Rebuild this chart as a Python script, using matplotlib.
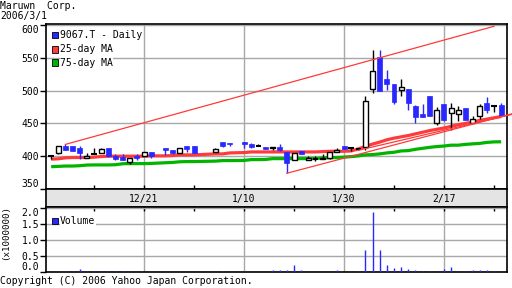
import numpy as np
import matplotlib.pyplot as plt
from matplotlib.patches import Rectangle
import matplotlib.transforms as mtransforms

plt.rcParams['font.family'] = 'DejaVu Sans Mono'
plt.rcParams['font.size'] = 7

# daily prices of 9067.T
dates = ['2005-12-02', '2005-12-05', '2005-12-06', '2005-12-07', '2005-12-08', '2005-12-09',
         '2005-12-12', '2005-12-13', '2005-12-14', '2005-12-15', '2005-12-16', '2005-12-19',
         '2005-12-20', '2005-12-21', '2005-12-22', '2005-12-26', '2005-12-27', '2005-12-28',
         '2005-12-29', '2005-12-30', '2006-01-04', '2006-01-05', '2006-01-06', '2006-01-10',
         '2006-01-11', '2006-01-12', '2006-01-13', '2006-01-16', '2006-01-17', '2006-01-18',
         '2006-01-19', '2006-01-20', '2006-01-23', '2006-01-24', '2006-01-25', '2006-01-26',
         '2006-01-27', '2006-01-30', '2006-01-31', '2006-02-01', '2006-02-02', '2006-02-03',
         '2006-02-06', '2006-02-07', '2006-02-08', '2006-02-09', '2006-02-10', '2006-02-13',
         '2006-02-14', '2006-02-15', '2006-02-16', '2006-02-17', '2006-02-20', '2006-02-21',
         '2006-02-22', '2006-02-23', '2006-02-24', '2006-02-27', '2006-02-28', '2006-03-01']
opens = [401, 405, 416, 415, 413, 397, 403, 405, 412, 401, 399, 391, 400, 400, 406,
         412, 410, 405, 415, 415, 406, 422, 420, 422, 418, 415, 414, 413, 414, 407,
         394, 408, 394, 396, 395, 398, 407, 416, 412, 411, 414, 503, 551, 518, 510,
         501, 503, 477, 465, 492, 451, 480, 466, 464, 473, 450, 461, 481, 477, 478]
highs = [402, 416, 418, 415, 416, 405, 412, 413, 412, 404, 404, 397, 403, 406, 406,
         412, 410, 412, 415, 415, 413, 422, 420, 422, 420, 419, 414, 414, 418, 407,
         405, 408, 401, 400, 403, 407, 413, 416, 414, 412, 492, 562, 562, 532, 510,
         518, 503, 478, 480, 492, 475, 480, 481, 477, 473, 461, 480, 490, 478, 481]
lows = [396, 404, 410, 408, 395, 397, 403, 405, 399, 394, 394, 388, 394, 400, 398,
        402, 404, 405, 407, 405, 406, 414, 415, 412, 412, 415, 411, 410, 408, 374,
        394, 404, 394, 393, 395, 396, 407, 411, 408, 409, 409, 496, 500, 501, 480,
        491, 471, 451, 460, 461, 447, 453, 440, 454, 455, 450, 457, 466, 467, 461]
closes = [401, 416, 410, 408, 405, 400, 403, 411, 401, 395, 394, 397, 397, 406, 400,
          409, 405, 412, 411, 405, 411, 416, 418, 419, 414, 415, 411, 414, 410, 389,
          405, 404, 398, 396, 398, 407, 410, 411, 412, 411, 484, 530, 500, 510, 483,
          506, 481, 460, 460, 461, 470, 455, 473, 470, 455, 456, 476, 471, 477, 461]
ma25 = [395.5, 396, 397.5, 398, 398, 398, 398.5, 399.5, 400, 400, 400, 400, 400, 400, 400.5,
        400.5, 401, 402, 402, 402, 403.5, 403.5, 405, 405.5, 406.5, 406.5, 406.5, 406.5, 406.5, 406.5,
        406.5, 406.5, 406.5, 406.5, 407, 407.5, 407.5, 407.5, 408, 411, 415, 418.5, 421.5, 425, 427.5,
        429.5, 431.5, 434, 436.5, 439, 441, 443, 445.5, 448, 450, 452, 454.5, 456.5, 458.5, 460.5]
ma75 = [384, 384.5, 385, 385, 385.5, 386.5, 386.7, 386.7, 386.7, 387, 388.5, 388.7, 388.7, 388.7, 389,
        390, 390.5, 391.5, 391.8, 391.8, 392.5, 393.3, 393.3, 393.5, 394.8, 394.8, 395, 396.3, 396.3, 396.3,
        396.3, 396.3, 396.3, 396.5, 397.4, 397.6, 398, 398.5, 399.4, 400.5, 402, 402.5, 403.5, 405, 406,
        408, 408.5, 410.5, 412, 413.5, 414.7, 415.5, 416.8, 416.8, 418, 418.8, 419.5, 421, 421.8, 422]
volume = [0.01, 0.03, 0.03, 0.03, 0.09, 0.03, 0.03, 0.03, 0.03, 0.03, 0.03, 0.03, 0.01, 0.01, 0.01,
          0.01, 0.01, 0.01, 0.01, 0.01, 0.01, 0.03, 0.01, 0.03, 0.01, 0.01, 0.01, 0.05, 0.05, 0.05,
          0.23, 0.05, 0.01, 0.01, 0.01, 0.01, 0.05, 0.01, 0.01, 0.03, 0.67, 1.85, 0.67, 0.23, 0.13,
          0.16, 0.09, 0.07, 0.03, 0.03, 0.03, 0.09, 0.17, 0.03, 0.03, 0.07, 0.07, 0.07, 0.03, 0.01]

date_ticks = ['2005-12-21', '2006-01-10', '2006-01-30', '2006-02-17']
date_labels = ['12/21', '1/10', '1/30', '2/17']

# hand drawn trend lines
trend_from = ['2005-12-06', '2006-01-18', '2006-02-01']
trend_to = ['2006-02-28', '2006-03-03', '2006-03-03']
trend_from_val = [418, 374, 409]
trend_to_val = [598, 466, 465]

BLUE = '#2828ff'
RED = '#ff3a3a'
GREEN = '#00b400'
GRID = '#a8a8a8'

# x axis = weekdays counted from 12/21 (holidays leave gaps)
base = np.datetime64('2005-12-21')
def wd(d):
    return np.busday_count(base, np.array(d, dtype='datetime64[D]'))

x = wd(dates)
o = np.array(opens, float)
h = np.array(highs, float)
l = np.array(lows, float)
c = np.array(closes, float)

fig = plt.figure(figsize=(5.12, 2.88), dpi=100)

def box(left, top, right, bottom):
    return [left / 512, 1 - bottom / 288, (right - left) / 512, (bottom - top) / 288]

ax = fig.add_axes(box(46, 24, 507, 189))
band = fig.add_axes(box(46, 189, 507, 207))
axv = fig.add_axes(box(46, 207, 507, 272))

xmin, xmax = -13.72, 50.82
minor = np.arange(-7, 51, 14)
for a in (ax, band, axv):
    a.set_xlim(xmin, xmax)
    for s in a.spines.values():
        s.set_linewidth(1.2)

# main price panel
ax.set_ylim(350, 601.5)
ax.set_yticks([350, 400, 450, 500, 550, 600])
ax.set_xticks(wd(date_ticks))
ax.set_xticks(minor, minor=True)
ax.set_xticklabels([])
ax.grid(True, color=GRID, linewidth=1)
ax.tick_params(axis='y', direction='out', length=4, width=1, pad=1, labelsize=7)
ax.tick_params(axis='x', which='both', direction='in', length=3, width=1)
ax.set_axisbelow(True)
ylabs = ax.get_yticklabels()
ylabs[0].set_va('bottom')
ylabs[-1].set_va('top')

ax.plot(x, ma75, color=GREEN, lw=2.3, zorder=2, solid_capstyle='butt')
ax.plot(x, ma25, color=RED, lw=2.3, zorder=2, solid_capstyle='butt')

up = c > o
down = c < o
flat = c == o
ax.vlines(x[down], l[down], h[down], color=BLUE, lw=1, zorder=3)
ax.vlines(x[~down], l[~down], h[~down], color='black', lw=1, zorder=3)
ax.bar(x[down], (o - c)[down], bottom=c[down], width=0.7, color=BLUE,
       edgecolor=BLUE, lw=0.5, zorder=4)
ax.bar(x[up], (c - o)[up], bottom=o[up], width=0.7, color='white',
       edgecolor='black', lw=1, zorder=4)
ax.hlines(o[flat], x[flat] - 0.38, x[flat] + 0.38, color='black', lw=1.5, zorder=4)

for a0, a1, v0, v1 in zip(trend_from, trend_to, trend_from_val, trend_to_val):
    ax.plot(wd([a0, a1]), [v0, v1], color=RED, lw=0.9, zorder=5, clip_on=False)

# legend in the price panel
legend_items = [('9067.T - Daily', BLUE, 35), ('25-day MA', RED, 49.5), ('75-day MA', GREEN, 62.5)]
for label, col, ypx in legend_items:
    fig.add_artist(Rectangle((51.5 / 512, 1 - (ypx + 3) / 288), 6 / 512, 6 / 288,
                             transform=fig.transFigure, facecolor=col,
                             edgecolor='black', lw=0.6, zorder=10))
    fig.text(60 / 512, 1 - ypx / 288, label, va='center', ha='left', fontsize=7,
             bbox=dict(facecolor='white', edgecolor='none', pad=0.3), zorder=10)

# date band between the panels
band.set_facecolor('#e4e4e4')
band.set_xticks([])
band.set_yticks([])
trans = mtransforms.blended_transform_factory(band.transData, band.transAxes)
for d, lab in zip(wd(date_ticks), date_labels):
    band.text(d, 0.45, lab, transform=trans, ha='center', va='center', fontsize=7)

# volume panel
axv.set_ylim(0, 2.02)
axv.set_yticks([0, 0.5, 1.0, 1.5, 2.0])
axv.set_yticklabels(['0.0', '0.5', '1.0', '1.5', '2.0'])
axv.set_xticks(wd(date_ticks))
axv.set_xticks(minor, minor=True)
axv.set_xticklabels([])
axv.grid(True, color=GRID, linewidth=1)
axv.set_axisbelow(True)
axv.tick_params(axis='y', direction='out', length=4, width=1, pad=1, labelsize=7)
axv.tick_params(axis='x', which='both', direction='in', length=3, width=1,
                bottom=False, top=True)
vlabs = axv.get_yticklabels()
vlabs[0].set_va('bottom')
vlabs[-1].set_va('top')
axv.vlines(x, 0, volume, color=BLUE, lw=1, zorder=3)
fig.add_artist(Rectangle((51.5 / 512, 1 - 224 / 288), 6 / 512, 6 / 288,
                         transform=fig.transFigure, facecolor=BLUE,
                         edgecolor='black', lw=0.6, zorder=10))
fig.text(60 / 512, 1 - 221 / 288, 'Volume', va='center', ha='left', fontsize=7,
         bbox=dict(facecolor='white', edgecolor='none', pad=0.3), zorder=10)
fig.text(5.5 / 512, 1 - 232 / 288, '(x1000000)', rotation=90, va='center', ha='center',
         fontsize=6.6)

# header and footer
fig.text(0, 1 - 9 / 288, 'Maruwn  Corp.', va='baseline', ha='left', fontsize=7)
fig.text(0, 1 - 18.5 / 288, '2006/3/1', va='baseline', ha='left', fontsize=7)
fig.text(0, 1 - 284 / 288, 'Copyright (C) 2006 Yahoo Japan Corporation.', va='baseline',
         ha='left', fontsize=7)

plt.savefig('out.png', dpi=100)
